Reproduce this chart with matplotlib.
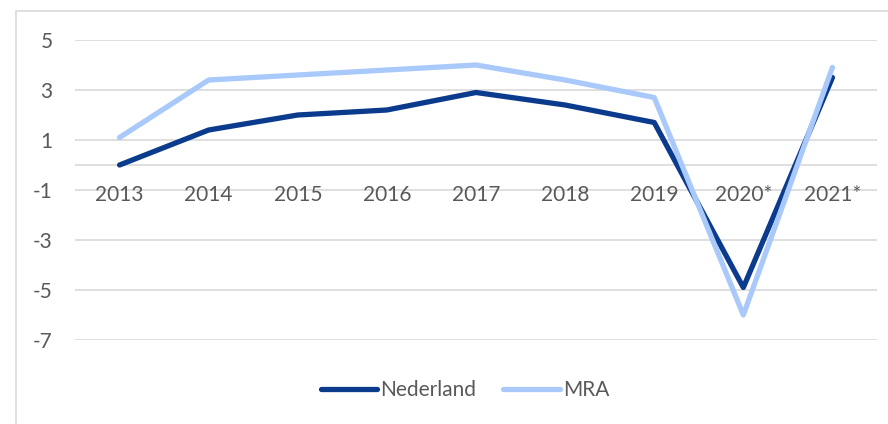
import matplotlib
matplotlib.use("Agg")
import matplotlib.pyplot as plt
from matplotlib.patches import Rectangle

years = ["2013", "2014", "2015", "2016", "2017", "2018", "2019", "2020*", "2021*"]
nederland = [0.0, 1.4, 2.0, 2.2, 2.9, 2.4, 1.7, -4.9, 3.5]
mra = [1.1, 3.4, 3.6, 3.8, 4.0, 3.4, 2.7, -6.0, 3.9]
yticks = [5, 3, 1, -1, -3, -5, -7]

plt.rcParams['font.family'] = ['Lato', 'DejaVu Sans']
txt_color = "#595959"
grid_color = "#d9d9d9"
dark = "#0B3B8C"
light = "#A9C9FB"
fs = 15

fig = plt.figure(figsize=(8.88, 4.24), dpi=100)
fig.patches.append(Rectangle((16/888, -0.1), 1.2, 1 - 11/424 + 0.1,
                             transform=fig.transFigure, fill=False,
                             edgecolor=grid_color, lw=1.2))

ax = fig.add_axes([75/888, 1 - 340/424, (877 - 75)/888, 300/424])
x = list(range(len(years)))
ax.plot(x, nederland, color=dark, lw=3.8, solid_capstyle='round',
        solid_joinstyle='round', label="Nederland", zorder=3)
ax.plot(x, mra, color=light, lw=3.8, solid_capstyle='round',
        solid_joinstyle='round', label="MRA", zorder=4)

ax.set_xlim(-0.5, len(years) - 0.5)
ax.set_ylim(-7, 5)
ax.set_yticks(yticks)
ax.set_yticklabels([str(v) for v in yticks])
for v in yticks:
    ax.axhline(v, color=grid_color, lw=1.2, zorder=1)
ax.axhline(0, color=grid_color, lw=1.2, zorder=1)

for s in ax.spines.values():
    s.set_visible(False)
ax.tick_params(axis='y', length=0, pad=16, labelsize=fs, labelcolor=txt_color)
ax.set_xticks([])

for xi, lab in zip(x, years):
    ax.annotate(lab, xy=(xi, 0), xytext=(0, -30), textcoords='offset pixels',
                ha='center', va='center', fontsize=fs, color=txt_color)

leg = fig.legend(loc='center', bbox_to_anchor=(465/888, 1 - 390/424),
                 ncol=2, frameon=False, fontsize=fs, handlelength=2.7,
                 handletextpad=0.15, columnspacing=1.3)
for t in leg.get_texts():
    t.set_color(txt_color)

fig.savefig("out.png", dpi=100)
